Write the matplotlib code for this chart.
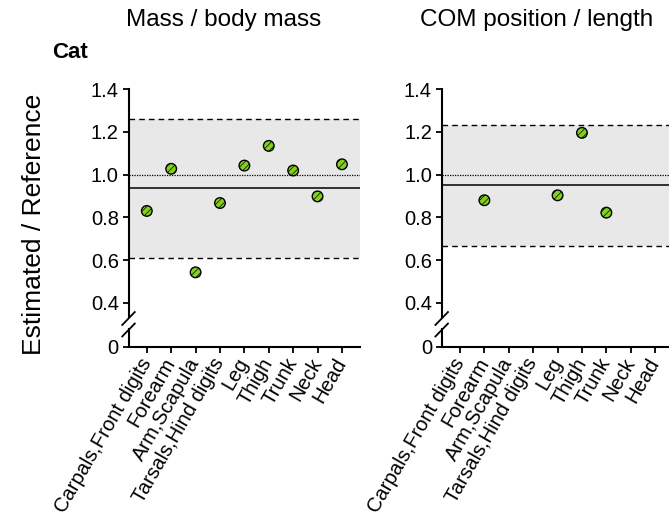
import matplotlib
matplotlib.use('Agg')
import matplotlib.pyplot as plt
import numpy as np

plt.rcParams['font.family'] = ['Liberation Sans', 'DejaVu Sans']
plt.rcParams['hatch.color'] = '#5ca814'
plt.rcParams['hatch.linewidth'] = 0.5

# Data
segments = ['Carpals,Front digits', 'Forearm', 'Arm,Scapula', 'Tarsals,Hind digits',
            'Leg', 'Thigh', 'Trunk', 'Neck', 'Head']
mass_ratio = [0.830, 1.027, 0.543, 0.867, 1.042, 1.134, 1.019, 0.898, 1.048]
com_ratio = [np.nan, 0.880, np.nan, np.nan, 0.903, 1.195, 0.822, np.nan, np.nan]

# mean line and limits (mean +/- range)
mass_mean, mass_lo, mass_hi = 0.936, 0.608, 1.262
com_mean, com_lo, com_hi = 0.952, 0.666, 1.234

yticks = [0.4, 0.6, 0.8, 1.0, 1.2, 1.4]
y_bottom = 0.194   # where the "0" sits after the axis break

color_fill = '#84d01e'
color_band = '#e8e8e8'

fig = plt.figure(figsize=(6.69, 5.26), dpi=100, facecolor='white')

ax_w = 231.5 / 669
ax_h = 258 / 526
ax_b = (526 - 347) / 526
ax1 = fig.add_axes([128.5 / 669, ax_b, ax_w, ax_h])
ax2 = fig.add_axes([441.7 / 669, ax_b, ax_w, ax_h])


def draw_panel(ax, values, mean, lo, hi):
    x = np.arange(len(segments))
    ax.set_xlim(-0.75, len(segments) - 1 + 0.74)
    ax.set_ylim(y_bottom, 1.4)

    # reference band
    ax.axhspan(lo, hi, facecolor=color_band, edgecolor='none', zorder=0)
    ax.axhline(hi, color='black', lw=1.0, ls=(0, (4, 3)), zorder=1)
    ax.axhline(lo, color='black', lw=1.0, ls=(0, (4, 3)), zorder=1)
    ax.axhline(1.0, color='black', lw=0.9, ls=(0, (1, 1)), zorder=1)
    ax.axhline(mean, color='black', lw=1.1, zorder=1)

    ax.scatter(x, values, s=58, facecolor=color_fill, edgecolor='black',
               linewidth=1.0, hatch='/////', zorder=3)

    # axes styling
    for side in ['top', 'right']:
        ax.spines[side].set_visible(False)
    ax.spines['left'].set_linewidth(1.5)
    ax.spines['bottom'].set_linewidth(1.5)
    ax.spines['left'].set_bounds(0.334, 1.4)

    ax.set_yticks([y_bottom] + yticks)
    ax.set_yticklabels(['0'] + [f'{t:.1f}' for t in yticks])
    ax.set_xticks(x)
    ax.set_xticklabels(segments, rotation=60, ha='right', va='center',
                       rotation_mode='anchor')
    ax.tick_params(axis='both', direction='out', length=4, width=1.3,
                   labelsize=14.5, color='black')
    ax.tick_params(axis='x', pad=5)
    ax.tick_params(axis='y', pad=3)

    # lower spine segment below the break
    ax.plot([0, 0], [0, (347 - 328) / 258], transform=ax.transAxes,
            color='black', lw=1.5, clip_on=False, solid_capstyle='butt')
    # break marks
    for yc in [(347 - 318.5) / 258, (347 - 330) / 258]:
        ax.plot([-0.027, 0.027], [yc - 0.025, yc + 0.025], transform=ax.transAxes,
                color='black', lw=1.3, clip_on=False)


draw_panel(ax1, mass_ratio, mass_mean, mass_lo, mass_hi)
draw_panel(ax2, com_ratio, com_mean, com_lo, com_hi)

fig.text(224 / 669, 1 - 20 / 526, 'Mass / body mass', ha='center', va='center', fontsize=17.5)
fig.text(537 / 669, 1 - 20 / 526, 'COM position / length', ha='center', va='center', fontsize=17.5)
fig.text(52 / 669, 1 - 53 / 526, 'Cat', ha='left', va='center', fontsize=16, fontweight='bold')
fig.text(34 / 669, 1 - 224 / 526, 'Estimated / Reference', ha='center', va='center',
         rotation=90, fontsize=19)

plt.savefig('out.png', dpi=100, facecolor='white')
